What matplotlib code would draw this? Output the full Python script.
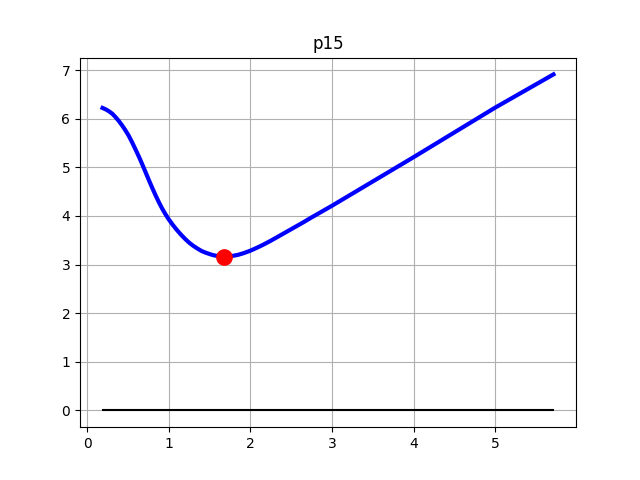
import matplotlib
matplotlib.use("Agg")
import matplotlib.pyplot as plt

x_vals = [0.19, 0.23, 0.27, 0.31, 0.35, 0.39, 0.43, 0.47, 0.51, 0.55, 0.59, 0.64, 0.68, 0.72,
          0.76, 0.80, 0.84, 0.88, 0.92, 0.96, 1.00, 1.05, 1.10, 1.15, 1.20, 1.25, 1.30, 1.35,
          1.40, 1.45, 1.51, 1.55, 1.60, 1.64, 1.68, 1.72, 1.76, 1.80, 1.85, 1.92, 2.00, 2.08,
          2.16, 2.25, 2.34, 2.45, 2.55, 2.65, 2.75, 2.87, 3.00, 3.50, 4.00, 4.50, 5.00, 5.71]
y_vals = [6.22, 6.19, 6.15, 6.10, 6.03, 5.95, 5.86, 5.76, 5.65, 5.52, 5.38, 5.20, 5.045, 4.885,
          4.725, 4.57, 4.42, 4.28, 4.15, 4.035, 3.93, 3.815, 3.71, 3.615, 3.528, 3.45, 3.385, 3.33,
          3.28, 3.245, 3.21, 3.19, 3.175, 3.167, 3.163, 3.165, 3.172, 3.183, 3.20, 3.235, 3.285, 3.345,
          3.41, 3.49, 3.575, 3.68, 3.775, 3.87, 3.97, 4.085, 4.21, 4.71, 5.21, 5.72, 6.23, 6.91]
min_x = [1.68]
min_y = [3.16]
zero_x = [0.2, 5.7]
zero_y = [0, 0]

fig, ax = plt.subplots(figsize=(6.4, 4.8), dpi=100)
ax.plot(x_vals, y_vals, color='blue', linewidth=3)
ax.plot(zero_x, zero_y, color='black', linewidth=1.5)
ax.plot(min_x, min_y, 'o', color='red', markersize=11)
ax.set_title('p15')
ax.grid(True)
fig.savefig('out.png')
